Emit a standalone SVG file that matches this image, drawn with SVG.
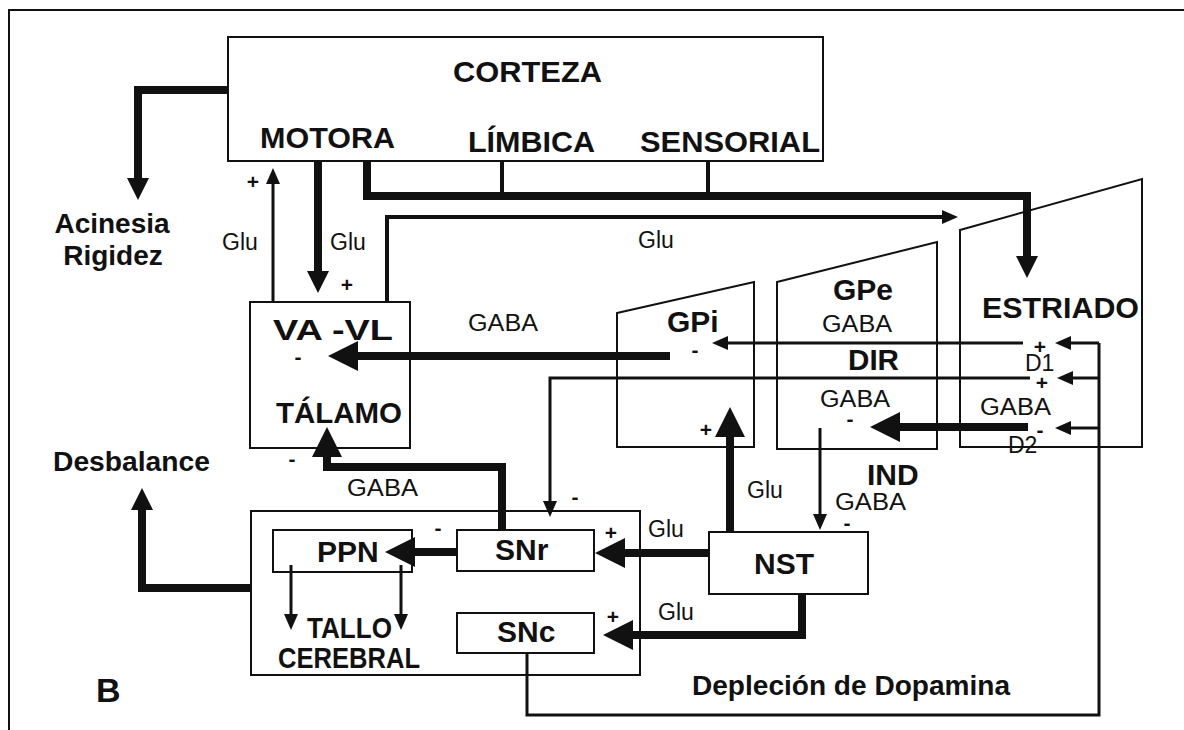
<svg xmlns="http://www.w3.org/2000/svg" width="1184" height="730" viewBox="0 0 1184 730">
<style>
.box{fill:none;stroke:#111;stroke-width:2}
.thk{fill:none;stroke:#111;stroke-width:8}
.mid{fill:none;stroke:#111;stroke-width:4}
.thn{fill:none;stroke:#111;stroke-width:3}
text{font-family:"Liberation Sans",Arial,sans-serif;fill:#111}
.b{font-weight:bold;font-size:30px}
.b28{font-weight:bold;font-size:28px}
.r{font-size:23px}
.sg{font-weight:bold;font-size:21px;text-anchor:middle}
</style>
<defs>
<marker id="big" viewBox="0 0 30 30" markerWidth="30" markerHeight="30" refX="1" refY="15" orient="auto" markerUnits="userSpaceOnUse"><path d="M0,0 L30,15 L0,30 z" fill="#111"/></marker>
<marker id="md" viewBox="0 0 22 22" markerWidth="22" markerHeight="22" refX="1" refY="11" orient="auto" markerUnits="userSpaceOnUse"><path d="M0,0 L22,11 L0,22 z" fill="#111"/></marker>
<marker id="sm" viewBox="0 0 16 14" markerWidth="16" markerHeight="14" refX="1" refY="7" orient="auto" markerUnits="userSpaceOnUse"><path d="M0,0 L16,7 L0,14 z" fill="#111"/></marker>
</defs>
<rect width="1184" height="730" fill="#fff"/>
<g id="frame"><path d="M9,730 V10 H1184" class="box"/></g>

<g id="corteza">
<rect x="228" y="37" width="595" height="124" class="box"/>
<text x="453" y="82" class="b" textLength="149" lengthAdjust="spacingAndGlyphs">CORTEZA</text>
<text x="260" y="148" class="b" textLength="135" lengthAdjust="spacingAndGlyphs">MOTORA</text>
<text x="468" y="152" class="b" textLength="127" lengthAdjust="spacingAndGlyphs">LÍMBICA</text>
<text x="640" y="152" class="b" textLength="180" lengthAdjust="spacingAndGlyphs">SENSORIAL</text>
</g>
<g id="acinesia">
<text x="112" y="233" class="b28" text-anchor="middle">Acinesia</text>
<text x="113" y="265" class="b28" text-anchor="middle">Rigidez</text>
</g>
<g id="talamo">
<rect x="250" y="302" width="160" height="146" class="box"/>
<text x="273" y="340" class="b" textLength="120" lengthAdjust="spacingAndGlyphs">VA -VL</text>
<text x="276" y="423" class="b" textLength="126" lengthAdjust="spacingAndGlyphs">TÁLAMO</text>
</g>
<g id="gpi">
<polygon points="617,313 754,282 754,447 617,447" class="box"/>
<text x="667" y="332" class="b">GPi</text>
</g>
<g id="gpe">
<polygon points="777,282 937,242 937,449 777,449" class="box"/>
<text x="833" y="300" class="b">GPe</text>
</g>
<g id="estriado">
<polygon points="960,230 1142,179 1142,447 960,447" class="box"/>
<text x="982" y="318" class="b" textLength="157" lengthAdjust="spacingAndGlyphs">ESTRIADO</text>
<text x="1025" y="371" class="r" font-size="22">D1</text>
<text x="1008" y="453" class="r" font-size="22">D2</text>
</g>
<g id="nst">
<rect x="709" y="532" width="159" height="62" class="box"/>
<text x="754" y="574" class="b">NST</text>
</g>
<g id="sn">
<rect x="251" y="511" width="389" height="164" class="box"/>
<text x="307" y="638" class="b" font-size="25" textLength="85" lengthAdjust="spacingAndGlyphs">TALLO</text>
<text x="278" y="668" class="b" font-size="25" textLength="142" lengthAdjust="spacingAndGlyphs">CEREBRAL</text>
</g>
<g id="snr">
<rect x="457" y="530" width="137" height="41" class="box"/>
<text x="495" y="560" class="b">SNr</text>
</g>
<g id="snc">
<rect x="457" y="613" width="137" height="40" class="box"/>
<text x="497" y="642" class="b">SNc</text>
</g>
<g id="ppn">
<rect x="273" y="530" width="139" height="42" class="box"/>
<text x="317" y="562" class="b">PPN</text>
</g>
<g id="desbalance"><text x="53" y="471" class="b28" textLength="157" lengthAdjust="spacingAndGlyphs">Desbalance</text></g>
<g id="depletion"><text x="692" y="695" class="b28" textLength="318" lengthAdjust="spacingAndGlyphs">Depleción de Dopamina</text></g>
<g id="label-b"><text x="96" y="702" font-weight="bold" font-size="34">B</text></g>

<g id="connectors">
<path d="M228,90 H138 V179" class="thk" stroke-width="7" marker-end="url(#md)"/>
<path d="M273,302 V183" class="thn" marker-end="url(#sm)"/>
<path d="M318,161 V272" class="thk" stroke-width="7" marker-end="url(#md)"/>
<path d="M367,161 V196 H1027 V257" class="thk" stroke-width="7" marker-end="url(#md)"/>
<path d="M502,161 V196 M708,161 V196" class="mid"/>
<path d="M387,302 V217 H943" class="mid" marker-end="url(#sm)"/>
<path d="M670,356 H357" class="thk" marker-end="url(#big)"/>
<path d="M1023,343 H727" class="thn" marker-end="url(#sm)"/>
<path d="M1030,378 H550 V502" class="thn" marker-end="url(#sm)"/>
<path d="M1028,427 H899" class="thk" marker-end="url(#big)"/>
<path d="M527,653 V715 H1099 V343" class="thn"/>
<path d="M1099,343 H1070" class="thn" marker-end="url(#sm)"/>
<path d="M1099,378 H1072" class="thn" marker-end="url(#sm)"/>
<path d="M1099,428 H1070" class="thn" marker-end="url(#sm)"/>
<path d="M820,428 V515" class="thn" marker-end="url(#sm)"/>
<path d="M730,532 V436" class="thk" marker-end="url(#big)"/>
<path d="M709,553 H624" class="thk" marker-end="url(#big)"/>
<path d="M802,594 V635 H632" class="thk" marker-end="url(#big)"/>
<path d="M502,530 V467 H327 V456" class="thk" marker-end="url(#big)"/>
<path d="M457,552 H414" class="thk" marker-end="url(#big)"/>
<path d="M291,565 V615" class="thn" marker-end="url(#sm)"/>
<path d="M401,565 V615" class="thn" marker-end="url(#sm)"/>
<path d="M251,588 H142 V509" class="thk" stroke-width="7" marker-end="url(#md)"/>

<text x="222" y="250" class="r">Glu</text>
<text x="330" y="250" class="r">Glu</text>
<text x="638" y="248" class="r">Glu</text>
<text x="747" y="498" class="r">Glu</text>
<text x="648" y="537" class="r">Glu</text>
<text x="658" y="620" class="r">Glu</text>
<text x="468" y="331" class="r" textLength="70" lengthAdjust="spacingAndGlyphs">GABA</text>
<text x="822" y="332" class="r" textLength="70" lengthAdjust="spacingAndGlyphs">GABA</text>
<text x="848" y="370" class="b" textLength="51" lengthAdjust="spacingAndGlyphs">DIR</text>
<text x="820" y="407" class="r" textLength="70" lengthAdjust="spacingAndGlyphs">GABA</text>
<text x="980" y="415" class="r" textLength="71" lengthAdjust="spacingAndGlyphs">GABA</text>
<text x="867" y="485" class="b">IND</text>
<text x="835" y="510" class="r" textLength="71" lengthAdjust="spacingAndGlyphs">GABA</text>
<text x="347" y="496" class="r" textLength="71" lengthAdjust="spacingAndGlyphs">GABA</text>

<text x="253" y="189" class="sg">+</text>
<text x="347" y="292" class="sg">+</text>
<text x="298" y="364" class="sg">-</text>
<text x="292" y="466" class="sg">-</text>
<text x="695" y="357" class="sg">-</text>
<text x="1040" y="354" class="sg">+</text>
<text x="1042" y="390" class="sg">+</text>
<text x="1040" y="437" class="sg">-</text>
<text x="850" y="426" class="sg">-</text>
<text x="847" y="530" class="sg">-</text>
<text x="706" y="437" class="sg">+</text>
<text x="575" y="504" class="sg">-</text>
<text x="611" y="540" class="sg">+</text>
<text x="613" y="624" class="sg">+</text>
<text x="438" y="535" class="sg">-</text>
</g>
</svg>
